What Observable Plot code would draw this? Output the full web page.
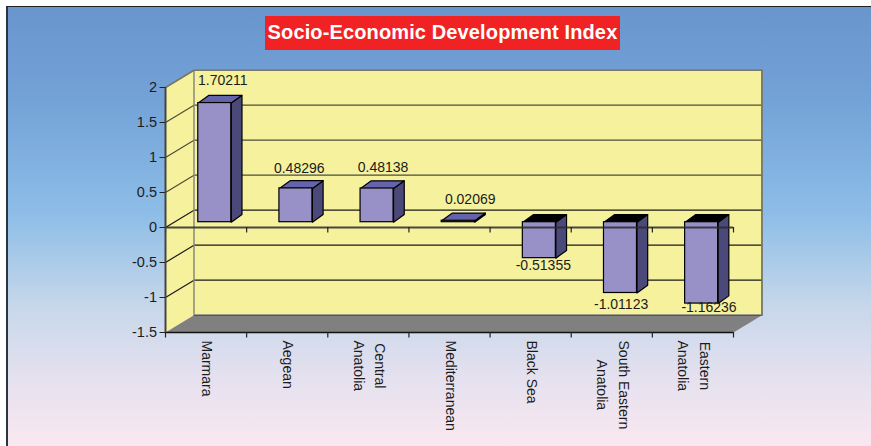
<!DOCTYPE html>
<html>
<head>
<meta charset="utf-8">
<script src="https://cdn.jsdelivr.net/npm/d3@7"></script>
<script src="https://cdn.jsdelivr.net/npm/@observablehq/plot@0.6"></script>
<style>
  html, body { margin: 0; padding: 0; background: #fff; width: 871px; height: 446px; overflow: hidden; }
  #panel { position: absolute; left: 6px; top: 6px; right: 0; bottom: 0; border-left: 2px solid #2b3540; border-top: 1px solid #222;
    background: linear-gradient(to bottom, #6995cd 0%, #74a3d8 22%, #8dbde7 47%, #c6d7ea 68%, #e6e1ef 85%, #f9e8f0 100%); }
  #title { position: absolute; left: 265px; top: 16px; width: 355px; height: 34px; background: #f12223; color: #fff;
    font: bold 20px "Liberation Sans", Arial, sans-serif; line-height: 33px; text-align: center; white-space: nowrap; letter-spacing: 0.13px; }
  #chart { position: absolute; left: 0; top: 60px; }
  #chart svg { background: transparent; }
</style>
</head>
<body>
<div id="panel"></div>
<div id="title">Socio-Economic Development Index</div>
<div id="chart"></div>
<script>
const categories = ["Marmara", "Aegean", "Central\nAnatolia", "Mediterranean", "Black Sea", "South Eastern\nAnatolia", "Eastern\nAnatolia"];
const values = [1.70211, 0.48296, 0.48138, 0.02069, -0.51355, -1.01123, -1.16236];
const yTicks = [-1.5, -1, -0.5, 0, 0.5, 1, 1.5, 2];
const xTicks = [0, 1, 2, 3, 4, 5, 6, 7];

// layout
const W = 871, H = 386;
const M = {left: 165, right: 138, top: 27, bottom: 114};
const ux = (W - M.left - M.right) / 7;            // px per category
const uy = (H - M.top - M.bottom) / 3.5;          // px per index unit
const wallX = 28.5 / ux, wallY = 17.3 / uy;       // oblique depth of the box
const barShiftX = 8.7 / ux, barShiftY = 5.3 / uy; // bar front, relative to the axis plane
const barHalf = 16.5 / ux;
const barDX = 10.7 / ux, barDY = 7.7 / uy;        // bar depth
const labelDx = [8, 3.3, 6, 12, 4, 0.6, 7.4];
const labelDy = [-22.3, -19.6, -21, -21, 7.4, 11.7, 4];

const yMin = -1.5, yMax = 2, xMax = 7;
const FS = 14;
const ink = "#1c1c1c";

const bars = values.map((v, i) => {
  const c = i + 0.5 + barShiftX;
  return {i, v, c, x1: c - barHalf, x2: c + barHalf,
    top: Math.max(v, 0) + barShiftY, bot: Math.min(v, 0) + barShiftY};
});
const poly = (id, pts) => {
  const r = pts.map(([x, y]) => ({id, x, y}));
  r.push(r[0]);
  return r;
};
const sideFaces = bars.flatMap(b => poly(b.i, [[b.x2, b.bot], [b.x2 + barDX, b.bot + barDY], [b.x2 + barDX, b.top + barDY], [b.x2, b.top]]));
const topFaces = bars.flatMap(b => poly(b.i, [[b.x1, b.top], [b.x1 + barDX, b.top + barDY], [b.x2 + barDX, b.top + barDY], [b.x2, b.top]]));
const topPos = topFaces.filter(d => values[d.id] >= 0);
const topNeg = topFaces.filter(d => values[d.id] < 0);

const leftWall = poly("l", [[0, yMin], [wallX, yMin + wallY], [wallX, yMax + wallY], [0, yMax]]);
const floor = poly("f", [[0, yMin], [wallX, yMin + wallY], [xMax + wallX, yMin + wallY], [xMax, yMin]]);
const gridRows = yTicks.filter(t => t > yMin && t < yMax).flatMap(t => [
  {id: t, x: 0, y: t}, {id: t, x: wallX, y: t + wallY}, {id: t, x: xMax + wallX, y: t + wallY}
]);
const wallEdge = [
  {x: 0, y: yMax}, {x: wallX, y: yMax + wallY}, {x: xMax + wallX, y: yMax + wallY}, {x: xMax + wallX, y: yMin + wallY}
];

// width of the longest line, so that a wrapped label can hang from the axis
const ctx = document.createElement("canvas").getContext("2d");
ctx.font = `${FS}px "Liberation Sans"`;
const longest = s => d3.max(s.split("\n"), l => ctx.measureText(l).width);

const catMarks = categories.map((c, i) => Plot.text([c], {
  x: () => i + 0.5 + 3 / ux, y: () => yMin, text: d => d, rotate: 90, textAnchor: "middle",
  lineHeight: 1.55, dy: 8 + longest(c) / 2, fontSize: FS, fill: ink
}));
const valueMarks = bars.map(b => Plot.text([b], {
  x: "c", y: d => d.v + barShiftY, text: d => String(d.v), textAnchor: "middle", lineAnchor: "middle",
  dx: labelDx[b.i], dy: labelDy[b.i], fontSize: FS, fill: ink
}));

const plot = Plot.plot({
  width: W, height: H,
  marginLeft: M.left, marginRight: M.right, marginTop: M.top, marginBottom: M.bottom,
  style: {background: "transparent", fontFamily: '"Liberation Sans", Arial, sans-serif', overflow: "visible"},
  x: {domain: [0, xMax], axis: null},
  y: {domain: [yMin, yMax], axis: null},
  marks: [
    Plot.rect([0], {x1: () => wallX, x2: () => xMax + wallX, y1: () => yMin + wallY, y2: () => yMax + wallY, fill: "#f5f19d"}),
    Plot.line(leftWall, {x: "x", y: "y", z: "id", fill: "#f5f19d", stroke: "none"}),
    Plot.line(floor, {x: "x", y: "y", z: "id", fill: "#808080", stroke: "none"}),
    Plot.line(gridRows, {x: "x", y: "y", z: "id", stroke: d => d.id <= 0 ? "#1a1a1a" : "#4d4d3a", strokeWidth: 1.2}),
    Plot.ruleY([yMin + wallY], {x1: () => wallX, x2: () => xMax + wallX, stroke: "#555", strokeWidth: 1.5}),
    Plot.ruleX([wallX], {y1: yMin + wallY, y2: yMax + wallY, stroke: "#8a8a7a", strokeWidth: 1.5}),
    Plot.line(wallEdge, {x: "x", y: "y", stroke: "#77776a", strokeWidth: 1.8}),
    Plot.line(sideFaces, {x: "x", y: "y", z: "id", fill: "#4b4979", stroke: "#000", strokeWidth: 1.2, strokeLinejoin: "round"}),
    Plot.line(topPos, {x: "x", y: "y", z: "id", fill: "#6663ad", stroke: "#000", strokeWidth: 1.2, strokeLinejoin: "round"}),
    Plot.line(topNeg, {x: "x", y: "y", z: "id", fill: "#000", stroke: "#000", strokeWidth: 1.2, strokeLinejoin: "round"}),
    Plot.rect(bars, {x1: "x1", x2: "x2", y1: "bot", y2: "top", fill: "#9791c7", stroke: "#000", strokeWidth: 1.2}),
    Plot.ruleY([0], {x1: () => 0, x2: () => xMax, stroke: "#2a2a2a", strokeWidth: 2, strokeOpacity: 0.85}),
    Plot.ruleY([yMin], {x1: () => 0, x2: () => xMax, stroke: "#111", strokeWidth: 1.6}),
    Plot.ruleX(xTicks, {y1: 0, y2: -5.5 / uy, stroke: "#222", strokeWidth: 1.2}),
    Plot.ruleX(xTicks, {y1: yMin, y2: yMin - 5.5 / uy, stroke: "#222", strokeWidth: 1.2}),
    Plot.ruleX([0], {y1: yMin, y2: yMax, stroke: "#444", strokeWidth: 2}),
    Plot.axisY({ticks: yTicks, tickSize: 5.5, tickPadding: 3, tickFormat: d => String(d), fontSize: FS + 0.5, label: null, stroke: "#222", color: ink}),
    ...valueMarks,
    ...catMarks
  ]
});
document.getElementById("chart").appendChild(plot);
</script>
</body>
</html>
